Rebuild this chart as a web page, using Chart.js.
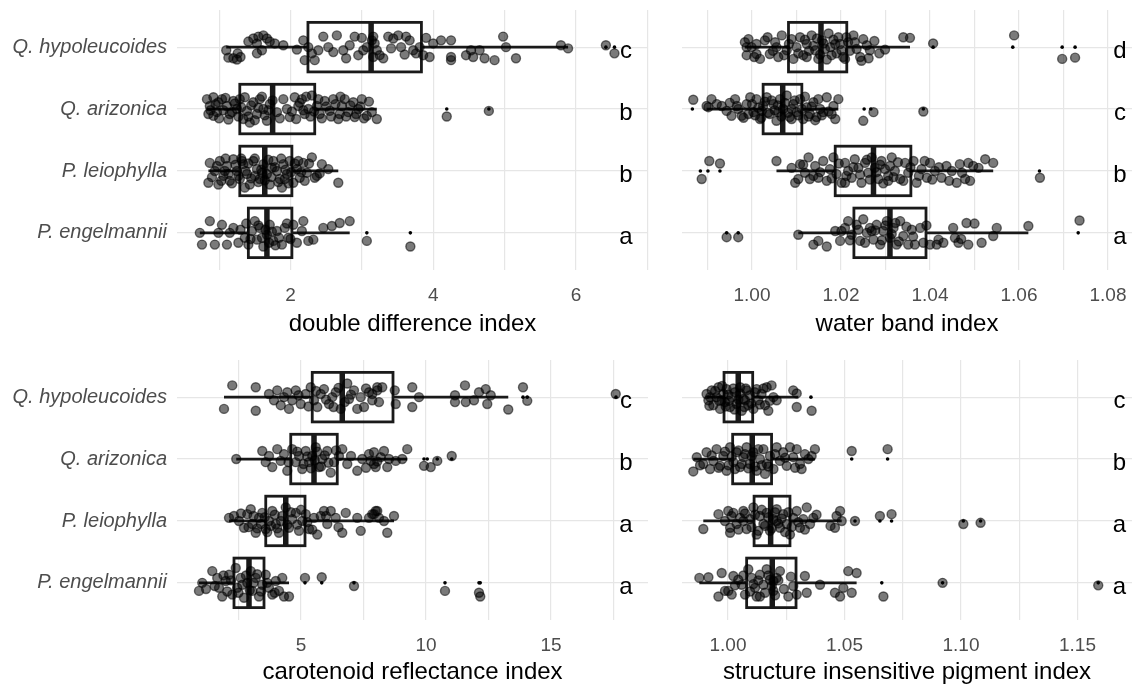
<!DOCTYPE html>
<html>
<head>
<meta charset="utf-8">
<script src="https://cdn.jsdelivr.net/npm/chart.js@4.4.1/dist/chart.umd.min.js"></script>
<style>
  html, body { margin: 0; padding: 0; background: #fff; overflow: hidden; }
  #wrap { position: relative; width: 1132px; height: 687px; }
  .panel { position: absolute; }
  .panel canvas { display: block; }
</style>
</head>
<body>
<div id="wrap">
  <div class="panel" style="left:0;top:0"><canvas id="ddi" width="660" height="339"></canvas></div>
  <div class="panel" style="left:660px;top:0"><canvas id="wbi" width="472" height="339"></canvas></div>
  <div class="panel" style="left:0;top:350px"><canvas id="cri" width="660" height="337"></canvas></div>
  <div class="panel" style="left:660px;top:350px"><canvas id="sipi" width="472" height="337"></canvas></div>
</div>
<script>
// Especies (de arriba a abajo)
const species = ['Q. hypoleucoides', 'Q. arizonica', 'P. leiophylla', 'P. engelmannii'];

// ---- double difference index ----
// puntos: [valor, desplazamiento vertical del jitter]
const ddiQh = [[1.10,0.05],[1.13,0.17],[1.20,0.18],[1.26,0.10],[1.25,0.20],[1.53,0.10],[1.41,-0.09],[1.48,-0.14],[1.55,-0.17],[1.62,-0.19],[1.67,-0.14],[1.71,-0.09],[1.78,-0.06],[1.53,-0.06],[1.90,-0.03],[2.09,0.04],[2.18,-0.11],[2.20,0.21],[2.25,0],[2.30,0.10],[2.34,0.21],[2.39,0.05],[2.46,-0.17],[2.53,0],[2.65,-0.19],[2.74,0.05],[2.83,-0.03],[2.90,-0.17],[2.95,0.13],[3.02,0.05],[3.07,0],[3.14,-0.11],[3.16,0.16],[3.16,-0.17],[3.18,-0.06],[3.21,0.05],[3.25,0.13],[3.37,-0.17],[3.41,0.02],[3.44,-0.14],[3.51,-0.19],[3.55,0],[3.62,-0.17],[3.67,-0.11],[3.72,0.05],[3.76,0.10],[3.81,0],[3.86,0.13],[3.95,0.16],[4.00,-0.06],[4.11,-0.11],[4.25,-0.11],[4.25,0.16],[4.25,0.21],[4.46,0.13],[4.53,0.05],[4.56,0.16],[4.65,0.05],[4.72,0.18],[4.86,0.21],[4.98,-0.17],[5.02,0],[5.16,0.18],[5.79,-0.03],[5.89,0.02],[6.42,-0.03],[6.54,0.10],[2.60,0.08],[2.78,0.18],[3.00,-0.15],[3.30,0.18],[3.60,0.12],[3.90,-0.15],[1.30,0.16],[1.60,0.05]];
const ddiQa = [[0.83,-0.16],[0.87,-0.05],[0.92,-0.19],[0.97,0.05],[0.99,-0.11],[1.04,-0.16],[0.85,0.08],[0.92,0.11],[1.11,-0.05],[1.15,0.08],[1.20,-0.13],[1.25,0],[1.29,-0.16],[1.34,0.16],[1.39,0.03],[1.43,0.22],[1.48,-0.11],[1.53,0.08],[1.57,-0.16],[1.62,0],[1.67,0.19],[1.71,-0.08],[1.81,0.05],[1.90,-0.16],[1.95,0],[1.99,0.13],[2.06,-0.19],[2.11,-0.05],[2.16,-0.16],[2.20,0.08],[2.25,0],[2.30,-0.22],[2.37,-0.05],[2.41,0.08],[2.48,-0.13],[2.55,0.03],[2.60,-0.16],[2.67,0.16],[2.72,-0.05],[2.76,-0.16],[2.81,0.05],[2.88,-0.11],[2.95,0],[3.00,-0.16],[3.07,0.11],[3.14,0.05],[3.21,0.16],[2.69,0.08],[2.90,0.13],[4.19,0.12],[4.78,0.03],[0.88,0.02],[0.95,-0.08],[1.00,0.15],[1.06,0.02],[1.09,-0.18],[1.13,0.17],[1.18,0.05],[1.22,-0.09],[1.27,0.12],[1.31,-0.03],[1.36,-0.19],[1.41,0.12],[1.45,-0.06],[1.50,0.18],[1.55,-0.02],[1.60,-0.20],[1.64,0.10],[1.69,0.02],[1.75,-0.14],[1.85,0.15],[2.02,0.04],[2.08,0.16],[2.13,-0.10],[2.18,0.02],[2.22,-0.20],[2.28,0.12],[2.33,0.04],[2.39,-0.16],[2.44,0.15],[2.50,-0.04],[2.57,0.12],[2.63,-0.08],[2.70,-0.20],[2.78,0.12],[2.84,-0.06],[2.92,0.08],[2.98,-0.04],[3.03,0.15],[3.10,-0.12]];
const ddiPl = [[0.87,-0.13],[0.85,0.19],[0.94,0],[1.01,-0.16],[1.06,0.08],[1.11,-0.08],[1.15,0.16],[1.20,-0.19],[1.25,0],[1.29,0.13],[1.34,-0.11],[1.39,0.05],[1.43,0.22],[1.48,-0.16],[1.53,-0.03],[1.57,0.13],[1.62,-0.11],[1.67,0.05],[1.71,0.22],[1.76,-0.16],[1.81,0],[1.85,0.13],[1.90,-0.11],[1.95,0.05],[1.99,-0.16],[2.04,0.19],[2.09,-0.03],[2.13,0.11],[2.18,-0.13],[2.23,0.03],[2.30,-0.22],[2.34,0.11],[2.44,-0.11],[2.53,-0.03],[2.67,0.19],[0.99,0.22],[1.36,0.27],[1.88,0.27],[2.37,0.08],[1.08,0],[1.50,0.08],[1.74,-0.05],[1.92,0.13],[1.32,-0.16],[1.60,0.03],[2.11,-0.16],[0.90,0.10],[0.97,-0.08],[1.03,0.16],[1.09,-0.20],[1.13,0.05],[1.18,0.20],[1.23,-0.10],[1.27,0.08],[1.31,-0.20],[1.37,0],[1.41,-0.12],[1.45,0.12],[1.50,-0.20],[1.55,0.18],[1.59,-0.02],[1.64,0.15],[1.69,-0.18],[1.73,0.10],[1.78,-0.06],[1.83,0.18],[1.87,-0.20],[1.93,-0.02],[1.97,0.20],[2.01,0.02],[2.06,-0.12],[2.15,0.02],[2.20,0.16],[2.26,-0.12],[2.41,0.04]];
const ddiPe = [[0.73,0],[0.76,0.19],[0.87,-0.19],[0.94,0.19],[0.99,0],[1.04,-0.13],[1.11,0.19],[1.15,0],[1.20,-0.08],[1.27,0.16],[1.36,0.08],[1.41,0.19],[1.46,-0.03],[1.50,-0.19],[1.53,0.11],[1.57,-0.08],[1.62,0.22],[1.67,0.03],[1.71,-0.13],[1.76,0.13],[1.81,-0.03],[1.88,0.19],[1.92,-0.08],[1.97,0.08],[2.04,-0.13],[2.09,0.16],[2.16,-0.03],[2.18,-0.19],[2.25,0.13],[2.32,0.11],[2.46,-0.08],[2.58,-0.11],[2.69,-0.16],[2.83,-0.19],[3.07,0.13],[3.68,0.22],[1.30,-0.05],[1.38,-0.15],[1.44,0.10],[1.55,-0.12],[1.60,0.08],[1.65,-0.05],[1.70,0.16],[1.74,-0.02],[1.79,0.20],[1.84,0.08],[1.95,-0.15],[2.00,0.10]];
// caja: [bigote inf, Q1, mediana, Q3, bigote sup]
const ddiBox = [[1.10,2.245,3.13,3.835,5.89],[0.83,1.29,1.75,2.34,3.21],[0.85,1.29,1.64,2.02,2.67],[0.73,1.41,1.67,2.02,2.83]];
const ddiOut = [[6.42,6.54],[4.19,4.78],[],[3.07,3.68]];
const ddiLetters = ['c','b','b','a'];

// ---- water band index ----
const wbiQh = [[0.9984,-0.08],[0.9988,0.13],[0.9992,-0.13],[0.9999,0],[1.0010,-0.05],[1.0018,0.19],[1.0029,-0.11],[1.0040,0.11],[1.0052,-0.08],[1.0059,0.16],[1.0067,-0.19],[1.0078,0.05],[1.0089,-0.13],[1.0093,0.19],[1.0100,0],[1.0108,-0.16],[1.0115,0.13],[1.0123,-0.05],[1.0134,-0.19],[1.0142,0.05],[1.0149,0.19],[1.0157,-0.11],[1.0164,0.03],[1.0172,-0.22],[1.0179,0.13],[1.0187,-0.05],[1.0194,-0.16],[1.0201,0.05],[1.0209,0.19],[1.0216,-0.08],[1.0228,-0.19],[1.0235,0.03],[1.0243,0.16],[1.0250,-0.13],[1.0258,-0.03],[1.0265,0.05],[1.0299,0.04],[1.0340,-0.16],[1.0355,-0.15],[1.0407,-0.06],[1.0589,-0.19],[1.0697,0.19],[1.0726,0.17],[1.0246,0.22],[1.0123,0.16],[1.0055,0],[1.0010,0.11],[0.9988,0],[1.0005,0.16],[1.0035,-0.16],[1.0047,0.06],[1.0072,0.13],[1.0083,-0.05],[1.0104,0.10],[1.0119,-0.12],[1.0128,0.06],[1.0138,-0.02],[1.0146,-0.14],[1.0153,0.12],[1.0161,-0.06],[1.0168,0.20],[1.0176,0],[1.0183,-0.12],[1.0190,0.10],[1.0198,-0.05],[1.0205,0.16],[1.0212,-0.16],[1.0220,0.06],[1.0231,-0.08],[1.0262,0.18],[1.0275,-0.10],[1.0286,0.10]];
const wbiQa = [[0.9868,-0.15],[0.9898,-0.05],[0.9909,-0.16],[0.9921,-0.08],[0.9932,-0.05],[0.9943,0.03],[0.9954,0.11],[0.9962,-0.16],[0.9969,0],[0.9977,0.11],[0.9988,-0.08],[0.9996,-0.19],[1.0003,0.05],[1.0010,-0.16],[1.0018,0.16],[1.0025,-0.05],[1.0033,-0.19],[1.0040,0.08],[1.0048,-0.08],[1.0055,0.19],[1.0063,-0.16],[1.0070,0],[1.0078,-0.22],[1.0085,0.13],[1.0093,-0.08],[1.0100,0.05],[1.0108,-0.16],[1.0115,0.16],[1.0123,-0.03],[1.0130,0.08],[1.0138,-0.11],[1.0145,0.13],[1.0153,0],[1.0160,0.05],[1.0168,-0.19],[1.0179,0.08],[1.0183,-0.05],[1.0194,-0.16],[1.0187,0.16],[1.0250,0.19],[1.0273,0.05],[1.0385,0.04],[0.9902,-0.03],[0.9966,-0.05],[0.9992,0.08],[1.0059,0.05],[1.0089,0],[1.0022,0.03],[0.9950,-0.10],[0.9981,0.14],[1.0000,-0.08],[1.0007,0.10],[1.0014,-0.02],[1.0021,0.14],[1.0029,-0.12],[1.0036,0.06],[1.0044,-0.14],[1.0051,0.02],[1.0058,-0.06],[1.0066,0.12],[1.0074,-0.10],[1.0081,0.06],[1.0089,0.16],[1.0096,-0.14],[1.0104,0.10],[1.0112,0],[1.0119,-0.20],[1.0127,0.12],[1.0134,-0.04],[1.0149,-0.16],[1.0157,0.10],[1.0172,0.04],[1.0142,0.18]];
const wbiPl = [[1.0055,-0.16],[1.0089,-0.05],[1.0097,0.19],[1.0108,-0.11],[1.0119,0.03],[1.0127,-0.22],[1.0130,0.13],[1.0142,-0.08],[1.0149,0.11],[1.0160,-0.16],[1.0168,0.16],[1.0175,-0.03],[1.0183,-0.22],[1.0190,0.05],[1.0201,0.19],[1.0209,-0.13],[1.0216,0],[1.0224,0.11],[1.0231,-0.19],[1.0239,-0.05],[1.0246,0.19],[1.0254,-0.13],[1.0261,0.03],[1.0269,-0.22],[1.0276,-0.05],[1.0284,0.13],[1.0291,-0.16],[1.0299,-0.03],[1.0306,0.16],[1.0314,-0.22],[1.0321,0],[1.0333,0.13],[1.0344,-0.13],[1.0351,0.03],[1.0363,-0.16],[1.0370,0.19],[1.0381,-0.03],[1.0393,0.11],[1.0400,-0.13],[1.0411,0],[1.0426,0.11],[1.0437,-0.08],[1.0449,0],[1.0460,0.19],[1.0467,-0.11],[1.0479,0.13],[1.0486,-0.13],[1.0490,0.16],[1.0509,-0.05],[1.0524,-0.19],[1.0542,-0.13],[1.0104,0.13],[1.0138,0.08],[1.0209,0.19],[1.0306,0.08],[0.9904,-0.16],[0.9928,-0.12],[0.9887,0.13],[1.0647,0.11],[1.0115,-0.10],[1.0153,0.02],[1.0179,0.12],[1.0195,-0.12],[1.0212,0.08],[1.0228,-0.06],[1.0243,0.06],[1.0258,-0.18],[1.0265,0.14],[1.0280,0.02],[1.0288,-0.10],[1.0295,0.20],[1.0310,-0.08],[1.0318,0.10],[1.0328,-0.14],[1.0340,0.16],[1.0356,-0.06],[1.0375,0.08],[1.0388,-0.16],[1.0405,0.14],[1.0420,-0.06],[1.0443,0.16],[1.0472,0.03],[1.0497,-0.08]];
const wbiPe = [[1.0104,0.03],[1.0138,0.19],[1.0149,0.13],[1.0168,0.22],[1.0187,-0.03],[1.0198,0.13],[1.0209,-0.08],[1.0216,-0.19],[1.0224,0.03],[1.0235,-0.13],[1.0243,0.13],[1.0250,-0.22],[1.0258,0],[1.0265,-0.08],[1.0273,0.11],[1.0280,-0.13],[1.0288,0.19],[1.0295,-0.03],[1.0303,-0.19],[1.0310,0.08],[1.0318,-0.08],[1.0325,0.19],[1.0333,-0.19],[1.0340,0.05],[1.0351,0.19],[1.0359,-0.05],[1.0366,0.19],[1.0378,-0.08],[1.0385,0.16],[1.0400,0.19],[1.0415,0.19],[1.0419,0.11],[1.0452,-0.08],[1.0456,0.08],[1.0464,0.16],[1.0482,-0.16],[1.0486,0.19],[1.0516,0.16],[1.0542,0.05],[1.0550,-0.08],[1.0621,-0.11],[1.0201,-0.03],[1.0269,-0.03],[0.9943,0.07],[0.9969,0.07],[1.0736,-0.20],[1.0220,0.12],[1.0239,-0.05],[1.0254,0.16],[1.0277,-0.04],[1.0292,0.12],[1.0300,-0.12],[1.0314,0.02],[1.0322,-0.16],[1.0330,0.14],[1.0347,-0.10],[1.0362,0.06],[1.0392,-0.12],[1.0430,0.16],[1.0470,0.10],[1.0500,-0.15]];
const wbiBox = [[0.9984,1.0082,1.0155,1.0213,1.0355],[0.9898,1.0025,1.0069,1.0112,1.0194],[1.0055,1.0187,1.0273,1.0357,1.0542],[1.0104,1.0229,1.0310,1.0391,1.0621]];
const wbiOut = [[1.0407,1.0586,1.0697,1.0726],[0.9866,1.0252,1.0267,1.0385],[0.9884,0.9901,0.9928,1.0646],[0.9943,0.9969,1.0733]];
const wbiLetters = ['d','c','b','a'];

// ---- carotenoid reflectance index ----
const criQh = [[2.25,-0.19],[1.92,0.19],[3.19,-0.16],[3.19,0.22],[3.72,-0.05],[3.92,0.05],[4.05,-0.11],[4.19,0.13],[4.32,0],[4.45,-0.08],[4.52,0.19],[4.65,0.05],[4.79,-0.11],[4.99,0.11],[5.19,-0.05],[5.39,-0.16],[5.52,0.05],[5.65,0.16],[5.79,-0.05],[5.92,-0.13],[6.12,0.11],[6.25,0],[6.39,-0.08],[6.59,0.19],[6.85,-0.22],[6.92,0.03],[7.12,-0.11],[7.25,0.19],[7.39,0],[7.52,0.16],[7.72,-0.08],[7.85,0.05],[8.05,-0.16],[7.85,-0.05],[8.05,-0.11],[8.25,-0.16],[8.12,0.08],[8.75,-0.11],[8.79,0.11],[9.45,-0.16],[9.45,0.16],[9.72,0],[11.16,-0.03],[11.16,0.08],[11.56,-0.19],[11.59,0.08],[11.92,0.05],[12.12,-0.08],[12.39,-0.13],[12.45,0.11],[12.59,-0.03],[13.29,0.20],[13.88,-0.16],[14.05,0.06],[17.59,-0.05],[4.90,-0.03],[5.30,0.15],[5.60,-0.10],[6.00,0.04],[6.30,0.16],[6.50,-0.15],[6.75,0.08],[7.00,-0.04],[7.60,-0.14]];
const criQa = [[2.41,0],[3.45,-0.13],[3.59,0.05],[3.72,-0.05],[3.85,0.13],[4.05,-0.16],[4.19,0.03],[4.32,-0.08],[4.45,0.19],[4.65,-0.16],[4.79,0.05],[4.92,-0.05],[5.05,0.16],[5.19,-0.13],[5.32,0.05],[5.45,-0.05],[5.59,-0.19],[5.72,0.13],[5.85,0],[6.05,-0.13],[6.19,0.22],[6.32,0.05],[6.52,-0.05],[6.65,-0.16],[6.85,0.08],[7.25,0.19],[7.45,0],[7.72,-0.08],[7.92,0.08],[7.79,0.03],[7.92,-0.11],[7.99,0.13],[8.19,-0.03],[8.32,-0.13],[8.45,0.13],[8.52,0],[8.79,0.03],[9.05,0],[9.25,-0.16],[9.92,0.11],[10.19,0.13],[10.45,0.03],[11.03,-0.05],[4.50,0.05],[4.85,-0.12],[5.10,0.08],[5.25,-0.04],[5.40,0.15],[5.55,0.02],[5.65,-0.12],[5.80,0.12],[5.95,-0.06],[6.10,0.06],[6.40,-0.14],[7.00,-0.05],[7.60,0.14],[8.05,0.04]];
const criPl = [[2.12,-0.05],[2.32,-0.08],[2.52,0],[2.72,0.11],[2.85,-0.11],[2.99,-0.19],[3.05,0.05],[3.19,0.19],[3.32,-0.05],[3.45,-0.13],[3.59,0.13],[3.72,0],[3.85,-0.16],[3.99,0.05],[4.12,0.19],[4.25,-0.08],[4.39,-0.22],[4.52,0.11],[4.65,-0.03],[4.79,-0.13],[4.92,0.16],[5.05,0],[5.19,-0.11],[5.32,0.13],[5.52,-0.05],[5.65,0.22],[5.79,-0.08],[5.92,-0.16],[6.05,0.05],[6.19,-0.16],[6.39,-0.05],[6.65,0.19],[6.79,-0.13],[7.25,-0.05],[7.39,0.16],[7.85,-0.11],[7.99,-0.16],[7.72,-0.05],[7.92,-0.11],[8.05,-0.16],[8.12,-0.05],[8.32,0],[8.45,0.19],[8.72,-0.08],[2.60,-0.12],[2.90,0.10],[3.10,-0.08],[3.25,0.12],[3.40,0.05],[3.55,-0.06],[3.65,0.18],[3.80,0.08],[3.95,-0.10],[4.05,0.12],[4.20,0],[4.45,0.06],[4.60,-0.14],[4.85,0.06],[5.00,-0.18],[5.25,0.02],[5.45,0.14],[6.00,-0.08],[6.50,0.10]];
const criPe = [[0.92,0.13],[1.05,0],[1.45,-0.19],[1.65,-0.08],[1.72,0.08],[1.85,0.22],[1.99,-0.03],[2.12,-0.13],[2.25,0.19],[2.39,-0.24],[2.45,0.08],[2.59,-0.08],[2.72,0.24],[2.85,0],[2.99,-0.19],[3.05,0.13],[3.19,-0.08],[3.32,0.22],[3.45,0.03],[3.59,-0.13],[3.72,0.08],[3.85,0.19],[3.99,-0.03],[4.12,0.13],[4.25,-0.08],[4.32,0.22],[4.52,0.22],[5.16,-0.08],[5.83,-0.09],[7.12,0.05],[10.76,0.13],[12.12,0.16],[12.17,0.22],[1.20,0.10],[1.55,0.05],[1.90,-0.12],[2.05,0.14],[2.20,-0.04],[2.50,0.16],[2.65,0.03],[2.80,-0.12],[2.95,0.12],[3.10,0],[3.25,-0.14],[3.40,0.14],[3.65,0],[3.95,0.16]];
const criBox = [[1.92,5.45,6.65,8.68,13.29],[2.41,4.59,5.52,6.45,9.25],[2.12,3.59,4.39,5.16,8.72],[0.92,2.32,2.92,3.52,4.52]];
const criOut = [[13.88,14.05,17.6],[9.92,10.05,10.45,11.03],[],[5.16,5.83,7.12,10.76,12.12,12.17]];
const criLetters = ['c','b','a','a'];

// ---- structure insensitive pigment index ----
const sipiQh = [[0.9908,-0.05],[0.9916,0.05],[0.9930,-0.11],[0.9937,0.13],[0.9951,0],[0.9959,-0.16],[0.9966,0.19],[0.9980,-0.05],[0.9987,0.08],[0.9994,-0.13],[1.0009,0.16],[1.0016,0],[1.0030,-0.08],[1.0037,0.11],[1.0052,-0.16],[1.0059,0.22],[1.0066,0.03],[1.0080,-0.11],[1.0087,0.13],[1.0094,-0.03],[1.0109,0.19],[1.0123,-0.13],[1.0130,0.05],[1.0144,-0.05],[1.0159,0.13],[1.0166,-0.16],[1.0173,0.22],[1.0187,-0.19],[1.0195,0],[1.0209,0.05],[1.0280,-0.11],[1.0295,-0.06],[1.0295,0.16],[1.0359,0.22],[0.9923,0],[0.9973,0.05],[1.0073,0.05],[0.9920,0.14],[0.9945,-0.10],[0.9962,0.06],[0.9975,-0.18],[0.9990,0.15],[1.0001,-0.04],[1.0005,0.06],[1.0023,-0.14],[1.0028,0.20],[1.0045,0.04],[1.0052,-0.06],[1.0070,0.16],[1.0076,-0.14],[1.0100,0.10],[1.0115,-0.08],[1.0137,0.12],[1.0152,-0.14],[1.0180,0.06]];
const sipiQa = [[0.9851,0.20],[0.9866,-0.03],[0.9894,0.08],[0.9908,-0.11],[0.9923,0.16],[0.9937,0.03],[0.9951,-0.16],[0.9966,0.11],[0.9980,-0.05],[0.9994,0.19],[1.0009,-0.19],[1.0023,0.05],[1.0037,-0.11],[1.0052,0.13],[1.0066,-0.03],[1.0080,-0.19],[1.0094,0.08],[1.0109,-0.11],[1.0123,0.19],[1.0137,0],[1.0152,-0.16],[1.0166,0.08],[1.0180,-0.05],[1.0195,0.16],[1.0209,-0.19],[1.0223,0.03],[1.0237,-0.11],[1.0252,0.11],[1.0266,-0.19],[1.0280,-0.03],[1.0295,-0.16],[1.0309,0.08],[1.0316,0.16],[1.0330,-0.08],[1.0345,0],[1.0359,-0.05],[1.0373,-0.16],[1.0531,-0.13],[1.0685,-0.16],[1.0159,0.24],[0.9880,0.10],[0.9930,-0.06],[0.9960,0.14],[0.9987,-0.12],[1.0002,0.10],[1.0016,-0.04],[1.0030,0.16],[1.0045,-0.14],[1.0059,0.08],[1.0073,-0.08],[1.0087,0.15],[1.0101,-0.05],[1.0116,0.12],[1.0130,-0.16],[1.0145,0.10],[1.0173,0.12],[1.0202,-0.08],[1.0245,-0.02],[1.0288,0.14]];
const sipiPl = [[0.9894,0.13],[0.9959,-0.11],[0.9987,0],[1.0001,-0.16],[1.0009,0.19],[1.0023,-0.13],[1.0037,0.05],[1.0052,-0.05],[1.0066,-0.16],[1.0080,0.13],[1.0094,-0.03],[1.0109,-0.22],[1.0123,0.22],[1.0137,-0.08],[1.0152,0.05],[1.0166,-0.13],[1.0180,0.16],[1.0195,-0.03],[1.0209,-0.19],[1.0223,0.11],[1.0237,-0.11],[1.0252,0.05],[1.0266,0.22],[1.0280,-0.05],[1.0295,-0.16],[1.0309,0.11],[1.0323,-0.03],[1.0338,-0.22],[1.0352,0.05],[1.0366,-0.05],[1.0459,0.11],[1.0466,-0.08],[1.0481,-0.16],[1.0488,0],[1.0009,0.11],[1.0066,0],[1.0209,0],[1.0545,0],[1.0652,-0.08],[1.0702,-0.11],[1.1010,0.05],[1.1084,0.03],[1.0015,-0.08],[1.0045,0.14],[1.0073,-0.12],[1.0101,0.10],[1.0116,-0.10],[1.0130,0.16],[1.0145,-0.18],[1.0159,0.08],[1.0173,-0.06],[1.0188,0.12],[1.0202,-0.14],[1.0216,0.04],[1.0230,-0.04],[1.0245,0.18],[1.0259,-0.14],[1.0273,0.10],[1.0302,0.02],[1.0330,0.14],[1.0380,-0.10],[1.0440,0.08]];
const sipiPe = [[0.9877,-0.08],[0.9916,-0.09],[0.9959,0.22],[0.9973,-0.16],[0.9987,0.13],[1.0001,0.13],[1.0016,0.19],[1.0023,-0.11],[1.0044,-0.05],[1.0059,0.03],[1.0073,0.19],[1.0087,-0.22],[1.0102,-0.08],[1.0116,0.08],[1.0123,0.22],[1.0137,-0.13],[1.0152,0.03],[1.0166,-0.22],[1.0180,-0.05],[1.0195,0.13],[1.0209,-0.08],[1.0223,-0.19],[1.0259,0.22],[1.0280,0.05],[1.0295,0.19],[1.0330,-0.11],[1.0338,0.16],[1.0395,0.03],[1.0459,0.16],[1.0481,0.22],[1.0495,0.08],[1.0516,-0.19],[1.0531,0.16],[1.0552,-0.16],[1.0137,0.22],[1.0195,-0.03],[1.0667,0.22],[1.0921,0],[1.1589,0.04],[1.0030,0.04],[1.0066,-0.12],[1.0095,0.14],[1.0109,0.02],[1.0130,-0.04],[1.0159,0.16],[1.0173,-0.12],[1.0188,0.05],[1.0202,0.20],[1.0216,-0.04],[1.0240,0.10],[1.0270,-0.10]];
const sipiBox = [[0.9908,0.9983,1.0044,1.0106,1.0302],[0.9851,1.0020,1.0104,1.0187,1.0373],[0.9894,1.0112,1.0183,1.0266,1.0488],[0.9877,1.0080,1.0190,1.0292,1.0552]];
const sipiOut = [[1.0356],[1.0531,1.0685],[1.0545,1.0652,1.0702,1.1010,1.1084],[1.0660,1.0921,1.1589]];
const sipiLetters = ['c','b','a','a'];

Chart.defaults.font.family = "'Liberation Sans', Arial, Helvetica, sans-serif";

const GRID = '#e6e6e6';
const INK = '#1a1a1a';

// Plugin: cajas y bigotes (debajo de los puntos)
const boxPlugin = {
  id: 'boxes',
  beforeDatasetsDraw(chart, args, opts) {
    const { ctx, scales: { x, y } } = chart;
    ctx.save();
    ctx.strokeStyle = INK;
    opts.stats.forEach((s, i) => {
      const row = i + 1;
      const yc = y.getPixelForValue(row);
      const yt = y.getPixelForValue(row - opts.half);
      const yb = y.getPixelForValue(row + opts.half);
      const [lo, q1, med, q3, hi] = s.map(v => x.getPixelForValue(v));
      ctx.lineWidth = 2.8;
      ctx.beginPath();
      ctx.moveTo(lo, yc); ctx.lineTo(q1, yc);
      ctx.moveTo(q3, yc); ctx.lineTo(hi, yc);
      ctx.stroke();
      ctx.strokeRect(q1, yt, q3 - q1, yb - yt);
      ctx.lineWidth = 5.5;
      ctx.beginPath();
      ctx.moveTo(med, yt); ctx.lineTo(med, yb);
      ctx.stroke();
    });
    ctx.restore();
  }
};

// Plugin: letras de significancia a la derecha
const letterPlugin = {
  id: 'letters',
  afterDatasetsDraw(chart, args, opts) {
    const { ctx, scales: { x, y } } = chart;
    ctx.save();
    ctx.fillStyle = '#000';
    ctx.font = "24px 'Liberation Sans', Arial, sans-serif";
    ctx.textAlign = 'center';
    ctx.textBaseline = 'alphabetic';
    const px = x.getPixelForValue(opts.at);
    opts.labels.forEach((t, i) => ctx.fillText(t, px, y.getPixelForValue(i + 1) + 11));
    ctx.restore();
  }
};

function buildPanel(id, o) {
  const pts = o.groups.flatMap((g, i) => g.map(p => ({ x: p[0], y: i + 1 + p[1] })));
  const outs = o.outliers.flatMap((g, i) => g.map(v => ({ x: v, y: i + 1 })));
  const isMajor = (v) => o.major.some(m => Math.abs(m - v) < 1e-9);
  return new Chart(document.getElementById(id), {
    type: 'scatter',
    data: {
      datasets: [
        { data: pts, pointRadius: 4.5, borderWidth: 1.4,
          backgroundColor: 'rgba(0,0,0,0.52)', borderColor: 'rgba(0,0,0,0.55)' },
        { data: outs, pointRadius: 1.8, borderWidth: 0, backgroundColor: '#000', borderColor: '#000' }
      ]
    },
    options: {
      responsive: false,
      animation: false,
      events: [],
      layout: { padding: { top: 10, right: o.padRight, left: 0, bottom: 0 }, autoPadding: false },
      plugins: {
        legend: { display: false },
        tooltip: { enabled: false },
        boxes: { stats: o.box, half: 0.4 },
        letters: { labels: o.letters, at: o.letterAt }
      },
      scales: {
        x: {
          type: 'linear', min: o.min, max: o.max,
          afterBuildTicks: (ax) => { ax.ticks = o.grid.map(v => ({ value: v })); },
          afterFit: (ax) => { ax.height = o.axisH; ax.paddingLeft = 0; ax.paddingRight = 0; },
          grid: { color: GRID, lineWidth: 1.2, drawTicks: false },
          border: { display: false },
          ticks: {
            autoSkip: false, maxRotation: 0, padding: 14, color: '#4d4d4d',
            font: { size: 19 },
            callback: (v) => isMajor(v) ? v.toFixed(o.digits) : ''
          },
          title: { display: true, text: o.title, color: '#000', font: { size: 24 }, padding: { top: 0, bottom: 0 } }
        },
        y: {
          type: 'linear', reverse: true, min: 0.4, max: 4.6,
          afterBuildTicks: (ax) => { ax.ticks = species.map((s, i) => ({ value: i + 1 })); },
          afterFit: (ax) => { ax.width = o.yWidth; ax.paddingTop = 0; ax.paddingBottom = 0; },
          grid: { color: GRID, lineWidth: 1.2, drawTicks: false },
          border: { display: false },
          ticks: {
            display: o.names, padding: 10, color: '#4d4d4d',
            font: { size: 20, style: 'italic' },
            callback: (v) => species[Math.round(v) - 1]
          }
        }
      }
    },
    plugins: [boxPlugin, letterPlugin]
  });
}

buildPanel('ddi', {
  groups: [ddiQh, ddiQa, ddiPl, ddiPe], box: ddiBox, outliers: ddiOut, letters: ddiLetters, letterAt: 6.7,
  min: 0.41, max: 7.01, grid: [1, 2, 3, 4, 5, 6, 7], major: [2, 4, 6], digits: 0,
  title: 'double difference index', yWidth: 177, padRight: 12, names: true, axisH: 69
});
buildPanel('wbi', {
  groups: [wbiQh, wbiQa, wbiPl, wbiPe], box: wbiBox, outliers: wbiOut, letters: wbiLetters, letterAt: 1.0827,
  min: 0.98427, max: 1.08539, grid: [0.99, 1.00, 1.01, 1.02, 1.03, 1.04, 1.05, 1.06, 1.07, 1.08],
  major: [1.00, 1.02, 1.04, 1.06, 1.08], digits: 2,
  title: 'water band index', yWidth: 22, padRight: 0, names: false, axisH: 69
});
buildPanel('cri', {
  groups: [criQh, criQa, criPl, criPe], box: criBox, outliers: criOut, letters: criLetters, letterAt: 18.0,
  min: 0.04, max: 18.88, grid: [2.5, 5, 7.5, 10, 12.5, 15, 17.5], major: [5, 10, 15], digits: 0,
  title: 'carotenoid reflectance index', yWidth: 177, padRight: 12, names: true, axisH: 67
});
buildPanel('sipi', {
  groups: [sipiQh, sipiQa, sipiPl, sipiPe], box: sipiBox, outliers: sipiOut, letters: sipiLetters, letterAt: 1.168,
  min: 0.98026, max: 1.17339, grid: [1.00, 1.025, 1.05, 1.075, 1.10, 1.125, 1.15], major: [1.00, 1.05, 1.10, 1.15], digits: 2,
  title: 'structure insensitive pigment index', yWidth: 22, padRight: 0, names: false, axisH: 67
});
</script>
</body>
</html>
